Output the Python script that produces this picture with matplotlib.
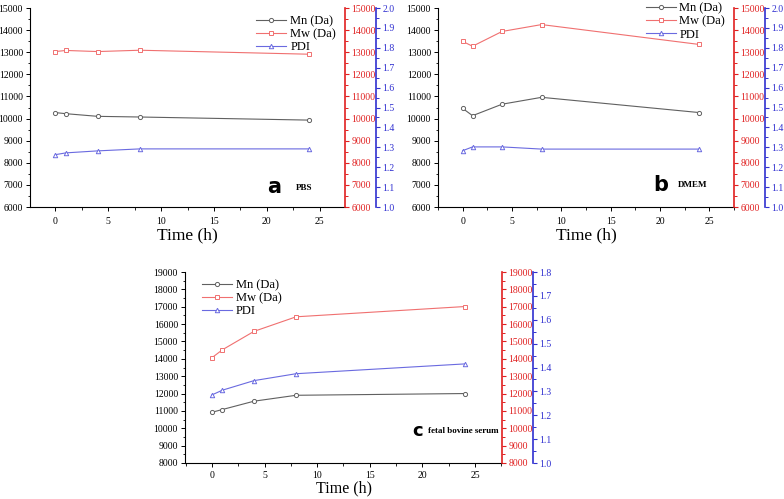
import matplotlib
matplotlib.use("Agg")
import matplotlib.pyplot as plt
from matplotlib.ticker import MultipleLocator, FormatStrFormatter
from matplotlib.lines import Line2D

plt.rcParams["font.family"] = ["Liberation Serif", "DejaVu Serif"]

# 데이터
time_h = [0, 1, 4, 8, 24]

mn_pbs = [10270, 10220, 10100, 10070, 9930]
mw_pbs = [13030, 13080, 13030, 13090, 12910]
pdi_pbs = [1.263, 1.272, 1.282, 1.292, 1.292]

mn_dmem = [10460, 10130, 10650, 10960, 10270]
mw_dmem = [13490, 13270, 13940, 14250, 13350]
pdi_dmem = [1.283, 1.302, 1.302, 1.291, 1.291]

mn_fbs = [10920, 11080, 11560, 11900, 12000]
mw_fbs = [14060, 14520, 15580, 16420, 17010]
pdi_fbs = [1.285, 1.305, 1.345, 1.374, 1.415]

MN_C = "#606060"
MW_C = "#f07070"
PDI_C = "#6a6ae0"
RED = "#e02020"
BLUE = "#3030d0"

W, H = 784, 499


def px(x0, y0, x1, y1):
    return [x0 / W, 1 - y1 / H, (x1 - x0) / W, (y1 - y0) / H]


def panel(fig, rect, xlim, ylim, pdilim, mn, mw, pdi, legend_xy, legend_loc,
          label_pad=1, label_size=12.5, xtick_pad=4):
    ax = fig.add_axes(rect)
    ax2 = ax.twinx()
    ax3 = ax.twinx()

    ax.plot(time_h, mn, color=MN_C, lw=0.8, marker="o", ms=3.0, mfc="white", mec=MN_C, mew=0.7)
    ax2.plot(time_h, mw, color=MW_C, lw=0.8, marker="s", ms=2.8, mfc="white", mec=MW_C, mew=0.7)
    ax3.plot(time_h, pdi, color=PDI_C, lw=0.8, marker="^", ms=3.2, mfc="white", mec=PDI_C, mew=0.7)

    ax.set_xlim(*xlim)
    ax.set_ylim(*ylim)
    ax2.set_ylim(*ylim)
    ax3.set_ylim(*pdilim)

    for a in (ax, ax2, ax3):
        a.spines["top"].set_visible(False)
        a.patch.set_visible(False)
    ax.spines["right"].set_visible(False)
    for a in (ax2, ax3):
        a.spines["left"].set_visible(False)
        a.spines["bottom"].set_visible(False)

    ax2.spines["right"].set_color(RED)
    ax3.spines["right"].set_color(BLUE)
    ax3.spines["right"].set_position(("outward", 22.5))
    ax2.spines["right"].set_linewidth(1.2)
    ax3.spines["right"].set_linewidth(1.2)

    ax.xaxis.set_major_locator(MultipleLocator(5))
    ax.xaxis.set_minor_locator(MultipleLocator(2.5))
    ax.yaxis.set_major_locator(MultipleLocator(1000))
    ax.yaxis.set_minor_locator(MultipleLocator(500))
    ax2.yaxis.set_major_locator(MultipleLocator(1000))
    ax2.yaxis.set_minor_locator(MultipleLocator(500))
    ax3.yaxis.set_major_locator(MultipleLocator(0.1))
    ax3.yaxis.set_minor_locator(MultipleLocator(0.05))

    ax.tick_params(axis="both", which="major", labelsize=7, length=3, width=0.7, direction="out", pad=2)
    ax.tick_params(axis="both", which="minor", length=1.8, width=0.6, direction="out")
    ax.tick_params(axis="x", pad=xtick_pad)
    ax2.tick_params(axis="y", which="major", labelsize=7, length=3, width=0.8,
                    colors=RED, direction="out", pad=1.5)
    ax2.tick_params(axis="y", which="minor", length=1.8, width=0.7, colors=RED, direction="out")
    ax3.tick_params(axis="y", which="major", labelsize=7, length=3, width=0.8,
                    colors=BLUE, direction="out", pad=1.5)
    ax3.tick_params(axis="y", which="minor", length=1.8, width=0.7, colors=BLUE, direction="out")
    ax3.yaxis.set_major_formatter(FormatStrFormatter("%.1f"))

    ax.set_xlabel("Time (h)", fontsize=label_size, labelpad=label_pad)

    handles = [
        Line2D([], [], color=MN_C, lw=0.8, marker="o", ms=3.0, mfc="white", mec=MN_C, mew=0.7),
        Line2D([], [], color=MW_C, lw=0.8, marker="s", ms=2.8, mfc="white", mec=MW_C, mew=0.7),
        Line2D([], [], color=PDI_C, lw=0.8, marker="^", ms=3.2, mfc="white", mec=PDI_C, mew=0.7),
    ]
    ax.legend(handles, ["Mn (Da)", "Mw (Da)", "PDI"], loc=legend_loc,
              bbox_to_anchor=legend_xy, frameon=False, fontsize=9,
              handlelength=2.4, handletextpad=0.3, labelspacing=0.08,
              borderpad=0.1)
    return ax


fig = plt.figure(figsize=(W / 100, H / 100), dpi=100)

panel(fig, px(30, 8, 345, 207), (-2.4, 27.4), (6000, 15000), (1.0, 2.0),
      mn_pbs, mw_pbs, pdi_pbs, (0.995, 1.0), "upper right")
panel(fig, px(438, 8, 734, 207), (-2.5, 27.5), (6000, 15000), (1.0, 2.0),
      mn_dmem, mw_dmem, pdi_dmem, (0.995, 1.065), "upper right")
panel(fig, px(185, 272, 502, 463), (-2.55, 27.55), (8000, 19000), (1.0, 1.8),
      mn_fbs, mw_fbs, pdi_fbs, (0.03, 1.0), "upper left",
      label_pad=0, label_size=11.5, xtick_pad=3)

fig.text(274 / W, 1 - 187 / H, "a", family="DejaVu Sans", fontsize=15, fontweight="bold",
         ha="center", va="center")
fig.text(304 / W, 1 - 188 / H, "PBS", fontsize=6.5, fontweight="bold", ha="center", va="center")
fig.text(661 / W, 1 - 185 / H, "b", family="DejaVu Sans", fontsize=15, fontweight="bold",
         ha="center", va="center")
fig.text(693 / W, 1 - 185 / H, "DMEM", fontsize=6.5, fontweight="bold", ha="center", va="center")
fig.text(418 / W, 1 - 431 / H, "c", family="DejaVu Sans", fontsize=13, fontweight="bold",
         ha="center", va="center")
fig.text(463 / W, 1 - 431 / H, "fetal bovine serum", fontsize=6.5, fontweight="bold",
         ha="center", va="center")

fig.savefig("out.png", dpi=100)
